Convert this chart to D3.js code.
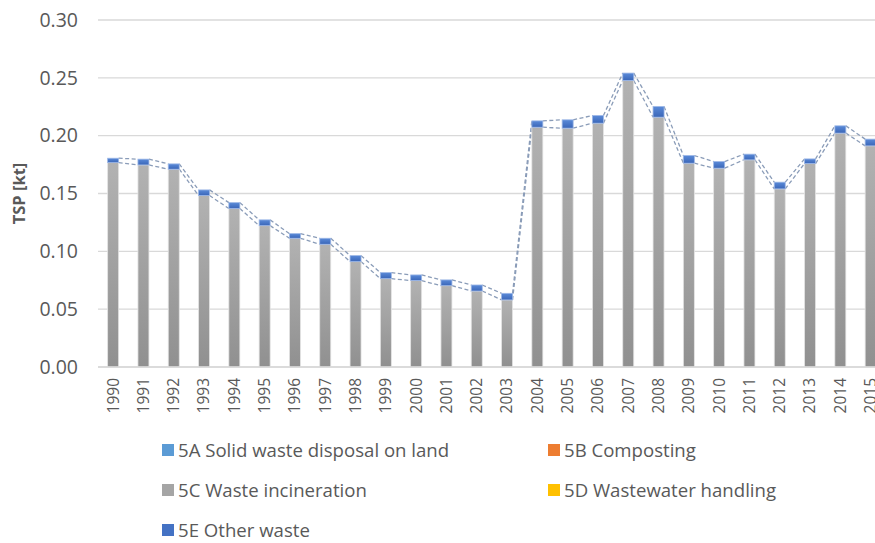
<!DOCTYPE html>
<html><head><meta charset="utf-8">
<script src="https://cdn.jsdelivr.net/npm/d3@7"></script>
<style>body{margin:0;background:#fff}svg{display:block}</style>
</head><body>
<svg id="c" width="875" height="543"></svg>
<script>
const years = ["1990","1991","1992","1993","1994","1995","1996","1997","1998","1999","2000","2001","2002","2003","2004","2005","2006","2007","2008","2009","2010","2011","2012","2013","2014","2015"];
const s5A = years.map(()=>0);
const s5B = years.map(()=>0);
const s5C = [0.1767,0.1747,0.1710,0.1482,0.1370,0.1222,0.1113,0.1061,0.0911,0.0764,0.0747,0.0703,0.0657,0.0580,0.2073,0.2065,0.2108,0.2477,0.2160,0.1762,0.1719,0.1791,0.1540,0.1759,0.2022,0.1912];
const s5D = years.map(()=>0);
const s5E = [0.0038,0.0050,0.0046,0.0049,0.0051,0.0050,0.0040,0.0052,0.0052,0.0052,0.0049,0.0050,0.0052,0.0057,0.0055,0.0072,0.0066,0.0064,0.0092,0.0066,0.0057,0.0049,0.0058,0.0040,0.0063,0.0058];
const yTicks = [0,0.05,0.10,0.15,0.20,0.25,0.30];
const seriesNames = ["5A Solid waste disposal on land","5B Composting","5C Waste incineration","5D Wastewater handling","5E Other waste"];
const seriesColors = ["#5b9bd5","#ed7d31","#a5a5a5","#ffc000","#4472c4"];

(function(){
const svg = d3.select("#c");
const FONT = "'Open Sans', Lato, sans-serif";
const txt = "#595959";
const pL = 98, pR = 885.8, pT = 20, pB = 367;

const x = d3.scaleBand().domain(years).range([pL, pR]).paddingInner(0.637).paddingOuter(0.3185);
const y = d3.scaleLinear().domain([0,0.30]).range([pB, pT]);

const defs = svg.append("defs");
const gg = defs.append("linearGradient").attr("id","gGrey").attr("x1",0).attr("y1",0).attr("x2",0).attr("y2",1);
gg.append("stop").attr("offset","0%").attr("stop-color","#b2b2b2");
gg.append("stop").attr("offset","100%").attr("stop-color","#909090");
const gb = defs.append("linearGradient").attr("id","gBlue").attr("x1",0).attr("y1",0).attr("x2",0).attr("y2",1);
gb.append("stop").attr("offset","0%").attr("stop-color","#5a8ad8");
gb.append("stop").attr("offset","100%").attr("stop-color","#3a66b8");

svg.append("g").selectAll("line").data(yTicks).join("line")
  .attr("x1",pL).attr("x2",875).attr("y1",d=>y(d)).attr("y2",d=>y(d))
  .attr("stroke","#d9d9d9").attr("stroke-width",1.3);

const yAxis = d3.axisLeft(y).tickValues(yTicks).tickFormat(d3.format(".2f")).tickSize(0).tickPadding(20);
const ya = svg.append("g").attr("transform",`translate(${pL},0)`).call(yAxis);
ya.select(".domain").remove();
ya.selectAll("text").attr("font-family",FONT).attr("font-size",19.5).attr("fill",txt);

svg.append("text").attr("transform",`translate(19,${(pT+pB)/2}) rotate(-90)`)
  .attr("text-anchor","middle").attr("dy","0.35em").attr("font-family",FONT).attr("font-size",16.5).attr("font-weight","bold")
  .attr("fill",txt).text("TSP [kt]");

const stackData = years.map((yr,i)=>({year:yr,A:s5A[i],B:s5B[i],C:s5C[i],D:s5D[i],E:s5E[i]}));
const layers = d3.stack().keys(["A","B","C","D","E"])(stackData);
const fills = {A:seriesColors[0],B:seriesColors[1],C:"url(#gGrey)",D:seriesColors[3],E:"url(#gBlue)"};
const strokes = {A:"#fff",B:"#fff",C:"#e4e4e4",D:"#fff",E:"#9bb6e6"};

["C","E"].forEach(k=>{
  const L = layers.find(l=>l.key===k);
  const segs = [];
  for(let i=0;i<years.length-1;i++){
    segs.push({x1:x(years[i])+x.bandwidth(), y1:y(L[i][1]), x2:x(years[i+1]), y2:y(L[i+1][1])});
  }
  svg.append("g").selectAll("line").data(segs).join("line")
    .attr("x1",d=>d.x1).attr("y1",d=>d.y1).attr("x2",d=>d.x2).attr("y2",d=>d.y2)
    .attr("stroke","#8a9cb8").attr("stroke-width",1.3).attr("stroke-dasharray","4,2.5");
});

layers.forEach(L=>{
  svg.append("g").selectAll("rect").data(L.filter(d=>d[1]-d[0]>0)).join("rect")
    .attr("x",d=>x(d.data.year)).attr("width",x.bandwidth())
    .attr("y",d=>y(d[1])).attr("height",d=>y(d[0])-y(d[1]))
    .attr("fill",fills[L.key]).attr("stroke",strokes[L.key]).attr("stroke-width",0.8);
});

svg.append("line").attr("x1",pL).attr("x2",875).attr("y1",pB).attr("y2",pB)
  .attr("stroke","#d9d9d9").attr("stroke-width",1.3);

const xAxis = d3.axisBottom(x).tickSize(0).tickPadding(0);
const xa = svg.append("g").attr("transform",`translate(0,${pB})`).call(xAxis);
xa.select(".domain").remove();
xa.selectAll("text").attr("font-family",FONT).attr("font-size",15.5).attr("fill",txt)
  .attr("transform","rotate(-90)").attr("text-anchor","end").attr("dy","0.35em").attr("dx","-11").attr("y",0).attr("x",0);

const legendPos = [[162,450],[548,450],[162,490],[548,490],[162,530]];
const lg = svg.append("g");
seriesNames.forEach((n,i)=>{
  const [lx,ly] = legendPos[i];
  lg.append("rect").attr("x",lx).attr("y",ly-6).attr("width",12).attr("height",12).attr("fill",seriesColors[i]);
  lg.append("text").attr("x",lx+16).attr("y",ly).attr("dy","0.35em").attr("font-family",FONT)
    .attr("font-size",18.6).attr("fill",txt).text(n);
});
})();
</script>
</body></html>
